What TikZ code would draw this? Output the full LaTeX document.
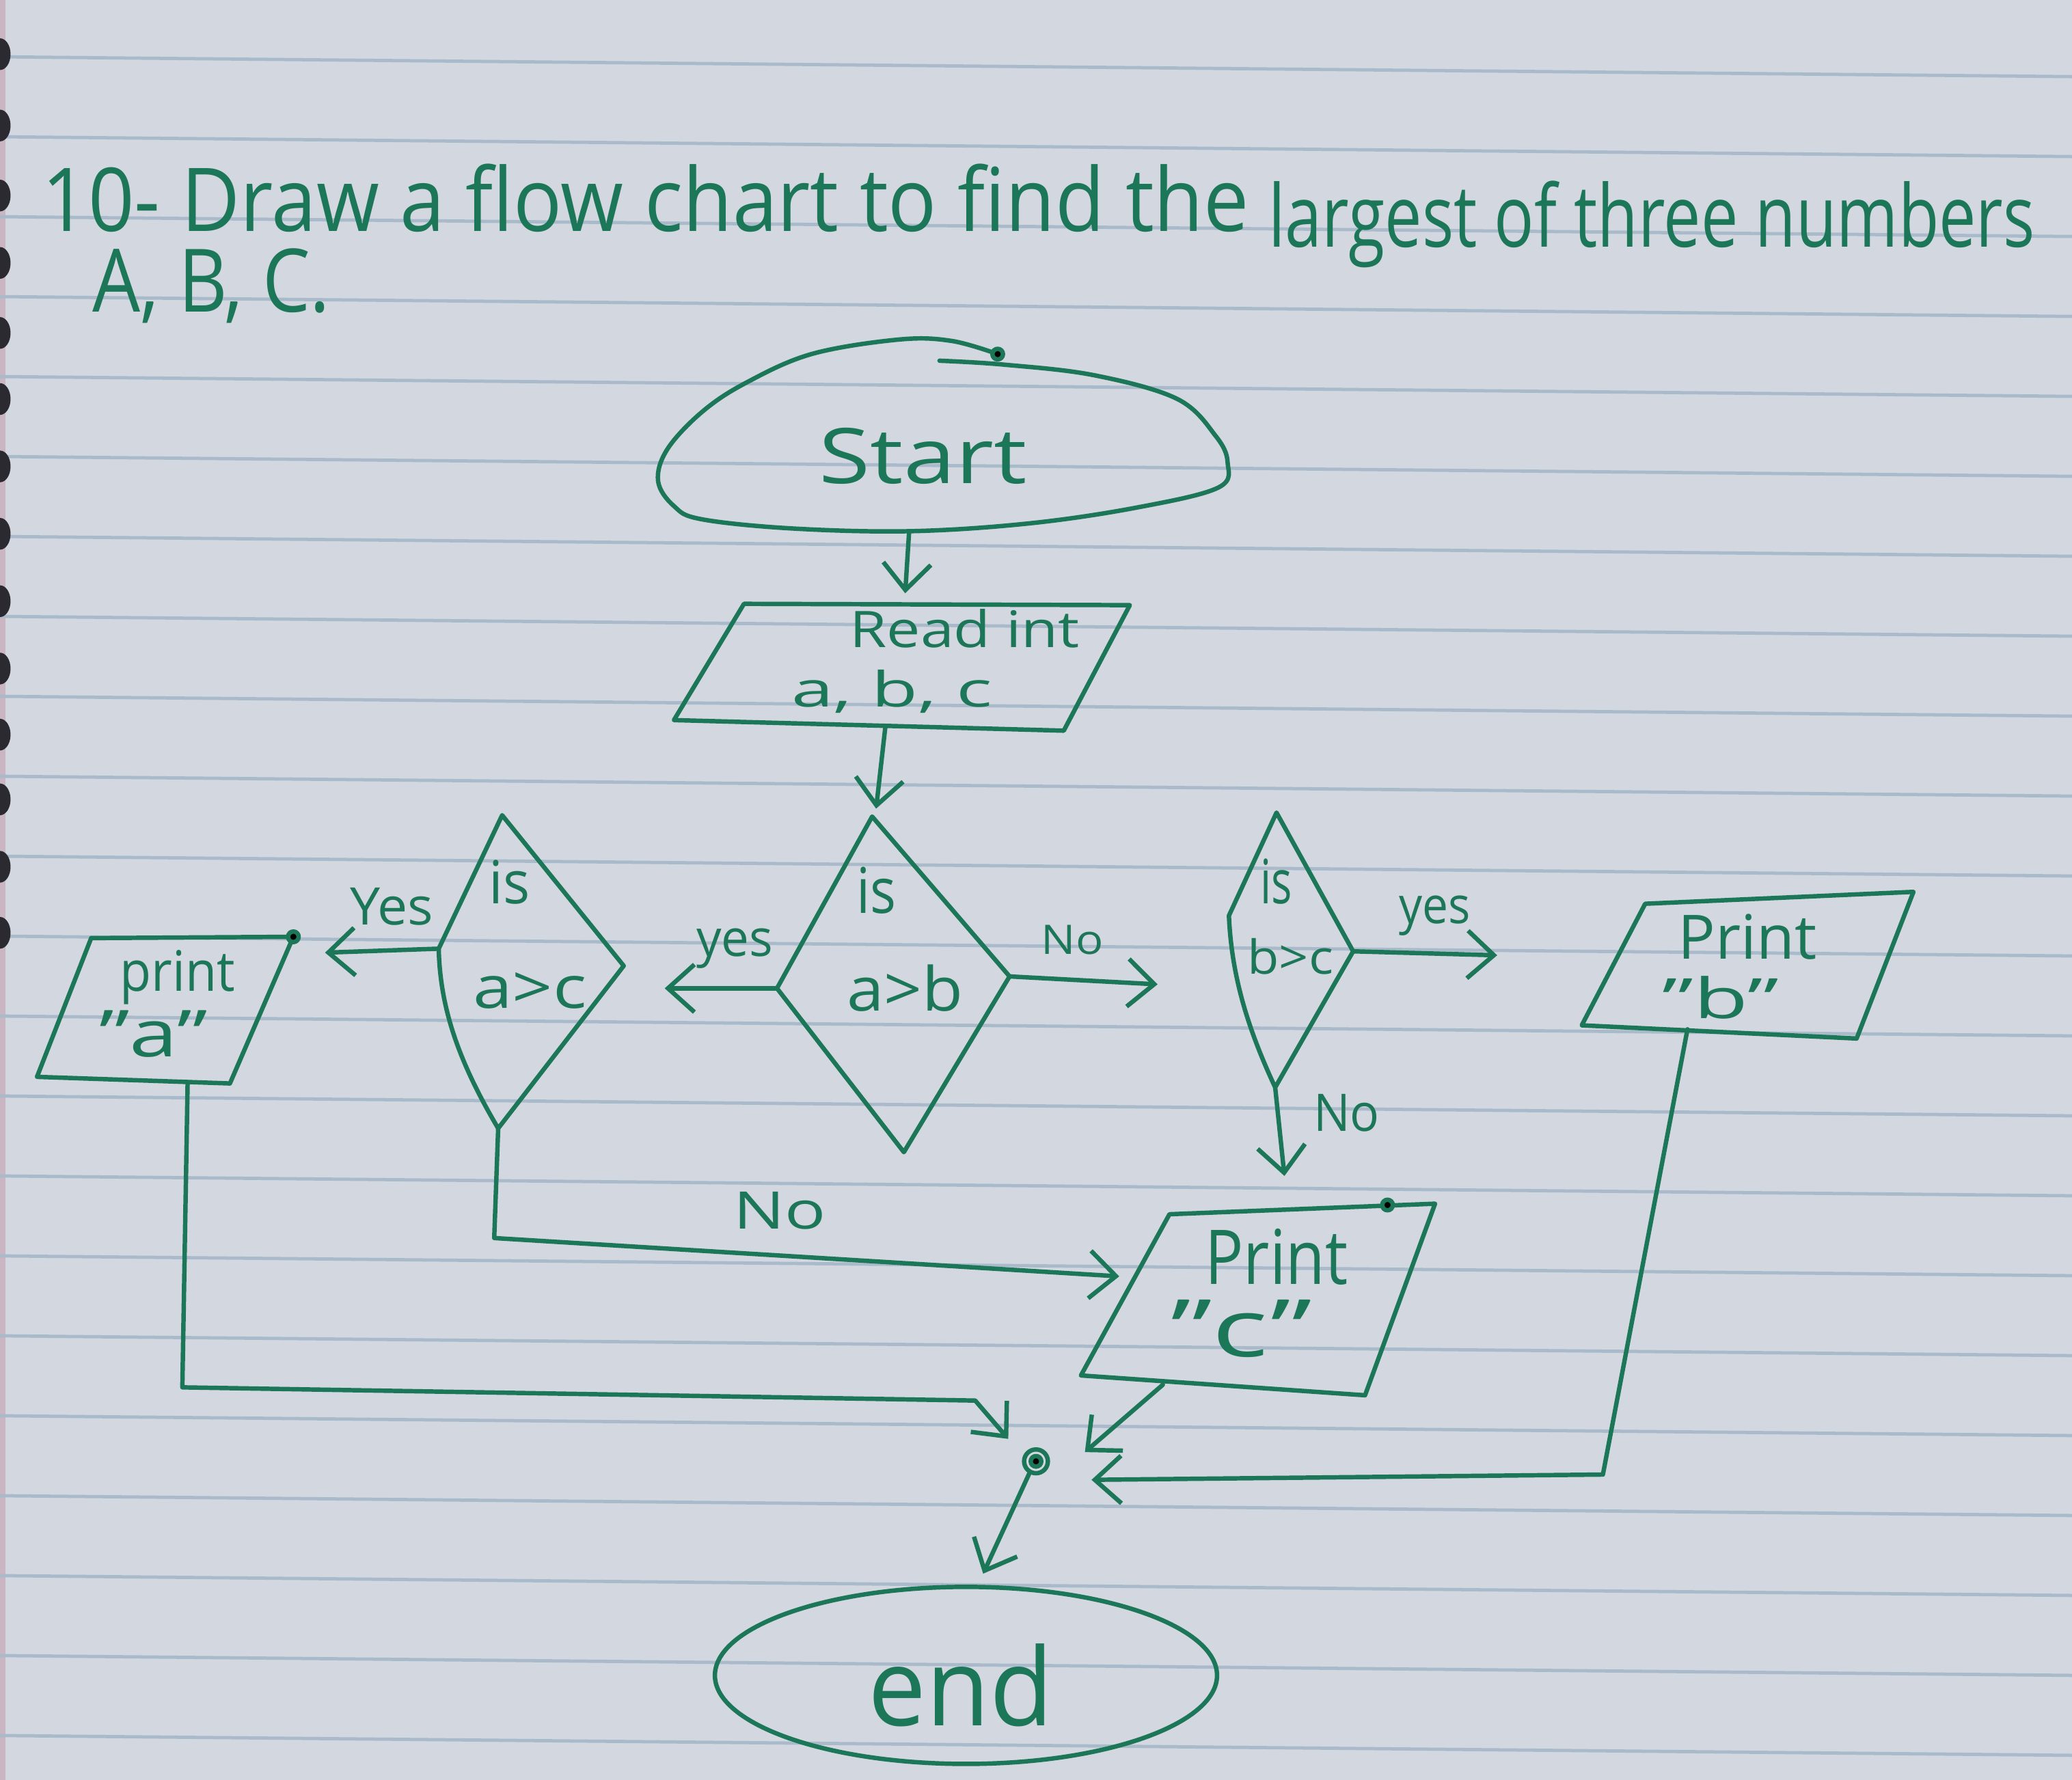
\documentclass[tikz,border=0pt]{standalone}
\usepackage{fontspec}
\setmainfont{Open Sans}
\usetikzlibrary{arrows.meta}
\definecolor{paper}{HTML}{D3D7E0}
\definecolor{rulecol}{HTML}{A9BACB}
\definecolor{ink}{HTML}{1C7658}
\definecolor{hole}{HTML}{2A2A30}
\definecolor{margin}{HTML}{C9B6C2}
\newcommand{\fitt}[3]{\resizebox{#1}{#2}{\fontsize{12}{12}\selectfont #3}}
\begin{document}
\begin{tikzpicture}[x=0.1mm,y=-0.1mm,line join=round,line cap=round,
  ink/.style={draw=ink,line width=0.95pt},
  conn/.style={ink,-{Straight Barb[length=2mm,width=3.6mm]}},
  lbl/.style={text=ink,inner sep=0pt,outer sep=0pt,anchor=base west}]
% paper
\fill[paper] (0,0) rectangle (1568,1347);
\useasboundingbox (0,0) rectangle (1568,1347);
\fill[margin] (0,0) rectangle (4,1347);
\foreach \k in {-2,...,19}
  \draw[rulecol,line width=0.7pt] (0,{164+60.5*\k}) -- (1568,{179+60.5*\k});
\foreach \y in {41,95,148,199,252,302,353,404,455,506,556,605,656,706}
  \fill[hole] (0,\y) ellipse [x radius=8,y radius=12];

% title
\node[lbl] (title1a) at (32,175) {\fitt{91.3mm}{5.1mm}{10- Draw a flow chart to find the}};
\node[lbl] (title1b) at (960,187) {\fitt{58mm}{5.0mm}{largest of three numbers}};
\node[lbl] (title2) at (70,236) {\fitt{18mm}{4.8mm}{A, B, C.}};

% start terminal
\draw[ink] plot[smooth,tension=0.6] coordinates {(755,268) (720,258) (680,257) (614,268) (564,290) (531,312) (505,340) (498,364) (510,383) (531,393) (600,400) (690,402) (780,396) (861,384) (922,369) (929,350) (920,330) (891,302) (828,284) (760,276) (711,273)};
\fill[ink] (755,268) circle (4);
\coordinate (start-out) at (688,402);
\node[lbl] (t-start) at (620,366) {\fitt{15.7mm}{4.2mm}{Start}};

% read input
\coordinate (rTL) at (563,457); \coordinate (rTR) at (855,458);
\coordinate (rBR) at (805,553); \coordinate (rBL) at (510,545);
\draw[ink] (rTL) -- (rTR) -- (rBR) -- (rBL) -- cycle;
\coordinate (read-in) at (685,449);
\coordinate (read-out) at (670,550);
\node[lbl] (t-read1) at (643,490) {\fitt{17.4mm}{2.9mm}{Read int}};
\node[lbl] (t-read2) at (599,535) {\fitt{15.2mm}{2.8mm}{a, b, c}};

% decision a>b
\coordinate (abT) at (660,618); \coordinate (abR) at (764,739);
\coordinate (abB) at (684,872); \coordinate (abL) at (588,748);
\draw[ink] (abT) -- (abR) -- (abB) -- (abL) -- cycle;
\coordinate (ab-in) at (663,612);
\node[lbl] (t-ab1) at (648,691) {\fitt{3mm}{3.5mm}{is}};
\node[lbl] (t-ab2) at (641,765) {\fitt{8.8mm}{3.5mm}{a>b}};

% decision a>c
\coordinate (acT) at (380,617); \coordinate (acR) at (472,731);
\coordinate (acB) at (377,854); \coordinate (acL) at (332,718);
\draw[ink] (acT) -- (acR) -- (acB) .. controls (345,800) and (333,760) .. (acL) -- cycle;
\node[lbl] (t-ac1) at (370,684) {\fitt{3.1mm}{3.3mm}{is}};
\node[lbl] (t-ac2) at (358,763) {\fitt{8.6mm}{2.7mm}{a>c}};

% decision b>c
\coordinate (bcT) at (966,615); \coordinate (bcR) at (1024,720);
\coordinate (bcB) at (965,823); \coordinate (bcL) at (930,693);
\draw[ink] (bcT) -- (bcR) -- (bcB) .. controls (945,780) and (932,740) .. (bcL) -- cycle;
\node[lbl] (t-bc1) at (954,684) {\fitt{2.4mm}{3.4mm}{is}};
\node[lbl] (t-bc2) at (944,737) {\fitt{6.5mm}{2.7mm}{b>c}};

% print a
\coordinate (paTL) at (69,710); \coordinate (paTR) at (222,709);
\coordinate (paBR) at (174,820); \coordinate (paBL) at (28,815);
\draw[ink] (paTL) -- (paTR) -- (paBR) -- (paBL) -- cycle;
\fill[ink] (paTR) circle (4);
\coordinate (pa-out) at (142,819);
\node[lbl] (t-pa1) at (91,750) {\fitt{8.7mm}{3.1mm}{print}};
\node[lbl] (t-pa2) at (75,800) {\fitt{8.2mm}{3.5mm}{"a"}};

% print b
\coordinate (pbTL) at (1245,684); \coordinate (pbTR) at (1448,675);
\coordinate (pbBR) at (1405,786); \coordinate (pbBL) at (1197,776);
\draw[ink] (pbTL) -- (pbTR) -- (pbBR) -- (pbBL) -- cycle;
\coordinate (pb-out) at (1277,779);
\node[lbl] (t-pb1) at (1270,726) {\fitt{10.5mm}{3.4mm}{Print}};
\node[lbl] (t-pb2) at (1258,771) {\fitt{8.8mm}{3.2mm}{"b"}};

% print c
\coordinate (pcTL) at (885,919); \coordinate (pcTR) at (1086,911);
\coordinate (pcBR) at (1033,1056); \coordinate (pcBL) at (818,1041);
\draw[ink] (pcTL) -- (pcTR) -- (pcBR) -- (pcBL) -- cycle;
\fill[ink] (1050,912) circle (4);
\coordinate (pc-in) at (847,966);
\coordinate (pc-top) at (972,890);
\coordinate (pc-out) at (880,1048);
\node[lbl] (t-pc1) at (912,972) {\fitt{10.8mm}{4.2mm}{Print}};
\node[lbl] (t-pc2) at (886,1027) {\fitt{10.7mm}{4.3mm}{"c"}};

% junction and end
\coordinate (jn) at (784,1106);
\draw[ink] (jn) circle (9);
\fill[ink] (jn) circle (4);
\coordinate (jn-a) at (763,1089);
\coordinate (jn-b) at (826,1120);
\coordinate (jn-c) at (821,1099);
\coordinate (jn-out) at (779,1115);
\coordinate (end-in) at (744,1191);
\draw[ink] (731,1268) ellipse [x radius=190,y radius=67];
\node[lbl] (t-end) at (657,1306) {\fitt{14mm}{6.2mm}{end}};

% connectors
\draw[conn] (start-out) -- (read-in);
\draw[conn] (read-out) -- (ab-in);
\coordinate (ab-yes) at (503,748);
\coordinate (ab-no) at (876,745);
\draw[conn] (abL) -- (ab-yes);
\draw[conn] (abR) -- (ab-no);
\coordinate (ac-yes) at (246,721);
\draw[conn] (acL) -- (ac-yes);
\coordinate (ac-corner) at (374,937);
\draw[conn] (acB) -- (ac-corner) -- (pc-in);
\coordinate (bc-yes) at (1133,723);
\draw[conn] (bcR) -- (bc-yes);
\draw[conn] (bcB) -- (pc-top);
\coordinate (pa-c1) at (138,1050);
\coordinate (pa-c2) at (738,1060);
\draw[conn] (pa-out) -- (pa-c1) -- (pa-c2) -- (jn-a);
\coordinate (pb-c1) at (1213,1116);
\draw[conn] (pb-out) -- (pb-c1) -- (jn-b);
\draw[conn] (pc-out) -- (jn-c);
\draw[conn] (jn-out) -- (end-in);

% labels
\node[lbl] (l-acyes) at (265,700) {\fitt{6.3mm}{2.8mm}{Yes}};
\node[lbl] (l-abyes) at (527,724) {\fitt{5.8mm}{2.1mm}{yes}};
\node[lbl] (l-abno) at (788,722) {\fitt{4.7mm}{2.2mm}{No}};
\node[lbl] (l-bcyes) at (1059,699) {\fitt{5.4mm}{2.1mm}{yes}};
\node[lbl] (l-bcno) at (994,856) {\fitt{5mm}{2.8mm}{No}};
\node[lbl] (l-acno) at (555,930) {\fitt{7mm}{2.8mm}{No}};
\end{tikzpicture}
\end{document}
